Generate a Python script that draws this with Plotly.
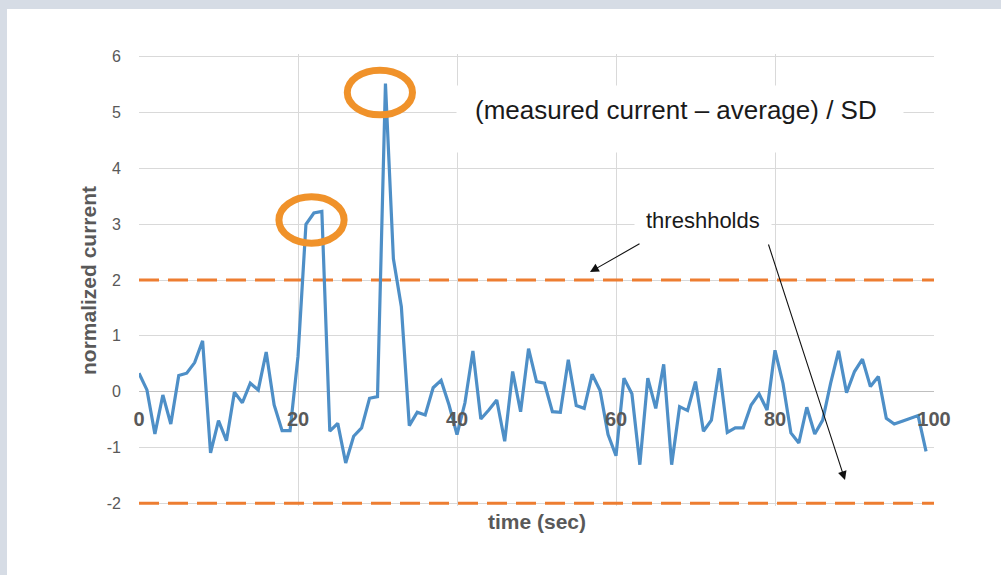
import plotly.graph_objects as go

# Normalized current samples, one per second
time_sec = list(range(100))
norm_current = [
    0.33, 0.03, -0.76, -0.06, -0.58, 0.29, 0.33, 0.52, 0.91, -1.10,
    -0.52, -0.88, -0.01, -0.20, 0.15, 0.03, 0.71, -0.24, -0.70, -0.70,
    0.63, 3.00, 3.20, 3.23, -0.71, -0.57, -1.28, -0.80, -0.65, -0.12,
    -0.09, 5.52, 2.38, 1.52, -0.61, -0.37, -0.42, 0.07, 0.20, -0.24,
    -0.77, -0.20, 0.73, -0.49, -0.33, -0.15, -0.89, 0.36, -0.36, 0.77,
    0.18, 0.15, -0.36, -0.37, 0.57, -0.25, -0.30, 0.31, 0.02, -0.77,
    -1.15, 0.24, -0.04, -1.31, 0.24, -0.30, 0.49, -1.31, -0.27, -0.34,
    0.18, -0.71, -0.51, 0.42, -0.73, -0.65, -0.65, -0.24, -0.04, -0.33,
    0.74, 0.15, -0.74, -0.92, -0.28, -0.76, -0.51, 0.15, 0.73, -0.02,
    0.36, 0.58, 0.09, 0.27, -0.48, -0.58, -0.53, -0.48, -0.43, -1.07,
]

thresholds = [2, -2]
x_ticks = [0, 20, 40, 60, 80, 100]
y_ticks = [-2, -1, 0, 1, 2, 3, 4, 5, 6]
y_tick_text = ["-2", "-1", "0", "1", "2", "3", "4", "5", "6"]
x_range = [0, 100]
# a little headroom so the threshold line on the bottom edge is not clipped
y_range = [-2.05, 6.05]

# Highlighted events: (x0, x1, y0, y1) of the rings
events = [(17.6, 25.8, 2.66, 3.49), (26.2, 34.4, 4.96, 5.76)]

W, H = 1001, 575
ML, MR, MT, MB = 139, 67, 54, 69
PW, PH = W - ML - MR, H - MT - MB


def fx(px):
    return (px - ML) / PW


def fy(py):
    return (H - MB - py) / PH


def dx(px):
    return x_range[0] + (px - ML) / PW * (x_range[1] - x_range[0])


def dy(py):
    return y_range[1] - (py - MT) / PH * (y_range[1] - y_range[0])


FONT = "Liberation Sans, Arial, sans-serif"
GRAY = "#595959"

fig = go.Figure()

for t in thresholds:
    fig.add_trace(go.Scatter(
        x=x_range, y=[t, t], mode="lines",
        line=dict(color="#ED7D31", width=3, dash="20px,9px"),
        hoverinfo="skip", showlegend=False,
    ))

fig.add_trace(go.Scatter(
    x=time_sec, y=norm_current, mode="lines",
    line=dict(color="#4E8FC7", width=3.2),
    showlegend=False,
))

shapes = [
    # outer frame band
    dict(type="rect", xref="paper", yref="paper",
         x0=fx(-5), x1=fx(W + 5), y0=fy(H + 5), y1=fy(-5),
         fillcolor="#D6DCE5", line=dict(width=0), layer="below"),
    dict(type="rect", xref="paper", yref="paper",
         x0=fx(7), x1=fx(W + 5), y0=fy(H + 5), y1=fy(9),
         fillcolor="white", line=dict(width=0), layer="below"),
]
for (x0, x1, y0, y1) in events:
    shapes.append(dict(type="circle", xref="x", yref="y",
                       x0=x0, x1=x1, y0=y0, y1=y1,
                       line=dict(color="#F0922A", width=7), layer="above"))

annotations = [
    # white label boxes
    dict(text=" ", x=fx(680), y=fy(119), xref="paper", yref="paper",
         xanchor="center", yanchor="middle", showarrow=False,
         width=444, height=64, bgcolor="white"),
    dict(text=" ", x=fx(703), y=fy(222), xref="paper", yref="paper",
         xanchor="center", yanchor="middle", showarrow=False,
         width=134, height=34, bgcolor="white"),
    dict(text="(measured current – average) / SD",
         x=fx(676), y=fy(110), xref="paper", yref="paper",
         xanchor="center", yanchor="middle", showarrow=False,
         font=dict(family=FONT, size=26, color="#1A1A1A")),
    dict(text="threshholds",
         x=fx(703), y=fy(220), xref="paper", yref="paper",
         xanchor="center", yanchor="middle", showarrow=False,
         font=dict(family=FONT, size=22, color="#1A1A1A")),
    dict(text="", x=dx(590), y=dy(272), xref="x", yref="y",
         ax=51, ay=-29, showarrow=True, arrowhead=2, arrowsize=1.6,
         arrowwidth=1.1, arrowcolor="#111111"),
    dict(text="", x=dx(845), y=dy(480), xref="x", yref="y",
         ax=-77, ay=-237, showarrow=True, arrowhead=2, arrowsize=1.6,
         arrowwidth=1.1, arrowcolor="#111111"),
    dict(text="<b>normalized current</b>", x=fx(88), y=fy(281),
         xref="paper", yref="paper", textangle=-90, showarrow=False,
         xanchor="center", yanchor="middle",
         font=dict(family=FONT, size=21, color=GRAY)),
    dict(text="<b>time (sec)</b>", x=fx(537), y=fy(521),
         xref="paper", yref="paper", showarrow=False,
         xanchor="center", yanchor="middle",
         font=dict(family=FONT, size=21, color=GRAY)),
]

fig.update_layout(
    width=W, height=H,
    margin=dict(l=ML, r=MR, t=MT, b=MB, autoexpand=False),
    paper_bgcolor="white", plot_bgcolor="white",
    shapes=shapes, annotations=annotations,
    xaxis=dict(range=x_range, tickvals=x_ticks, showgrid=True,
               gridcolor="#D9D9D9", gridwidth=1, zeroline=False,
               showline=False, ticks="", anchor="free",
               position=(0 - y_range[0]) / (y_range[1] - y_range[0]),
               ticklabelstandoff=13,
               tickfont=dict(family=FONT, size=20, color=GRAY, weight="bold")),
    yaxis=dict(range=y_range, tickvals=y_ticks, ticktext=y_tick_text,
               showgrid=True,
               gridcolor="#D9D9D9", gridwidth=1, zeroline=True,
               zerolinecolor="#BFBFBF", zerolinewidth=1,
               showline=False, ticks="", ticklabelstandoff=17,
               tickfont=dict(family=FONT, size=16, color=GRAY)),
)

fig.write_html("out.html")
